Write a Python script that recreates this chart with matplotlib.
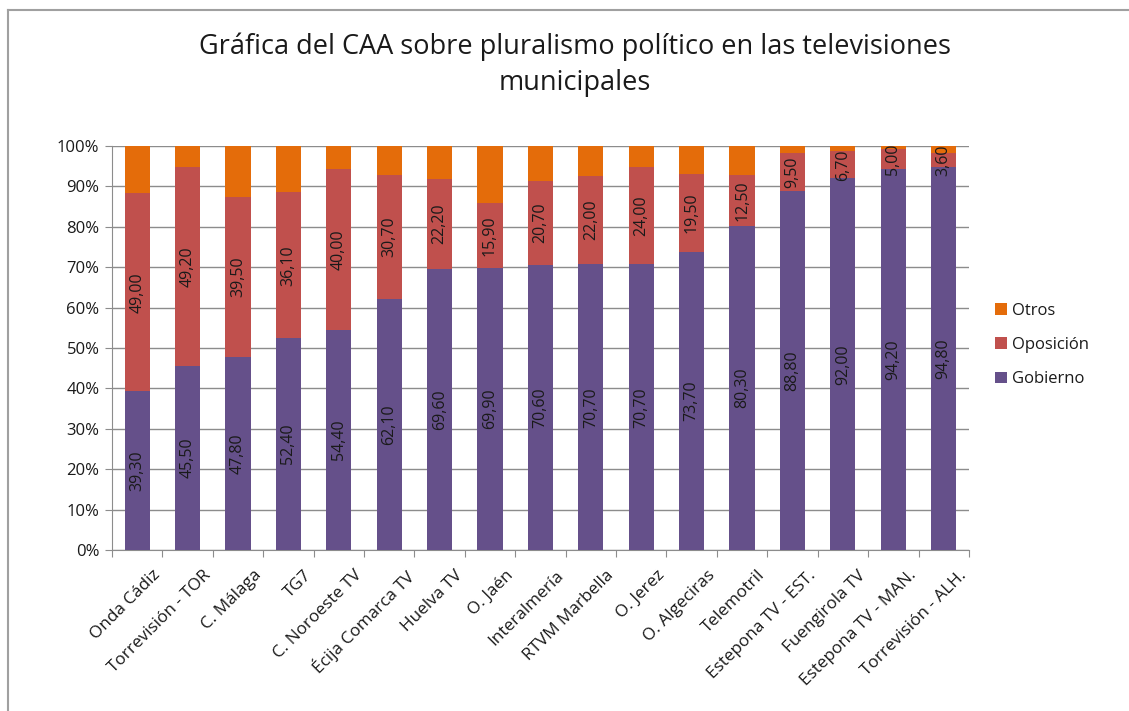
import matplotlib
matplotlib.use("Agg")
import matplotlib.pyplot as plt
from matplotlib.lines import Line2D
import numpy as np

plt.rcParams['font.family'] = ['Open Sans', 'DejaVu Sans']

canales = ['Onda Cádiz', 'Torrevisión - TOR', 'C. Málaga', 'TG7', 'C. Noroeste TV',
           'Écija Comarca TV', 'Huelva TV', 'O. Jaén', 'Interalmería', 'RTVM Marbella',
           'O. Jerez', 'O. Algeciras', 'Telemotril', 'Estepona TV - EST.',
           'Fuengirola TV', 'Estepona TV - MAN.', 'Torrevisión - ALH.']
gobierno = [39.3, 45.5, 47.8, 52.4, 54.4, 62.1, 69.6, 69.9, 70.6, 70.7, 70.7, 73.7,
            80.3, 88.8, 92.0, 94.2, 94.8]
oposicion = [49.0, 49.2, 39.5, 36.1, 40.0, 30.7, 22.2, 15.9, 20.7, 22.0, 24.0, 19.5,
             12.5, 9.5, 6.7, 5.0, 3.6]
otros = [11.7, 5.3, 12.7, 11.5, 5.6, 7.2, 8.2, 14.2, 8.7, 7.3, 5.3, 6.8,
         7.2, 1.7, 1.3, 0.8, 1.6]

c_gob = '#65508A'
c_opo = '#C0504D'
c_otr = '#E46C0A'
grid_c = '#8C8C8C'
txt_c = '#1a1a1a'

fig = plt.figure(figsize=(11.29, 7.11), dpi=100)
ax = fig.add_axes([0.0992, 0.2264, 0.7590, 0.5682])

x = np.arange(len(canales))
g = np.array(gobierno)
o = np.array(oposicion)
t = np.array(otros)
tot = g + o + t
gp = g / tot * 100
op = o / tot * 100
tp = t / tot * 100

w = 0.5
ax.bar(x, gp, w, color=c_gob, label='Gobierno', zorder=3)
ax.bar(x, op, w, bottom=gp, color=c_opo, label='Oposición', zorder=3)
ax.bar(x, tp, w, bottom=gp + op, color=c_otr, label='Otros', zorder=3)

# etiquetas de datos (Gobierno y Oposición)
for i in range(len(canales)):
    ax.text(x[i], gp[i] / 2, f'{gobierno[i]:.2f}'.replace('.', ','), rotation=90,
            ha='center', va='center', fontsize=11.5, color=txt_c, zorder=4)
    ax.text(x[i], gp[i] + op[i] / 2, f'{oposicion[i]:.2f}'.replace('.', ','), rotation=90,
            ha='center', va='center', fontsize=11.5, color=txt_c, zorder=4)

ax.set_xlim(-0.5, len(canales) - 0.5)
ax.set_ylim(0, 100)
ax.set_yticks(np.arange(0, 101, 10))
ax.set_yticklabels([f'{v}%' for v in range(0, 101, 10)], fontsize=12, color=txt_c)
ax.yaxis.grid(True, color=grid_c, lw=1, zorder=0)
ax.tick_params(axis='y', length=5, color=grid_c, pad=4)

ax.set_xticks(np.arange(-0.5, len(canales), 1))
ax.set_xticklabels([])
ax.tick_params(axis='x', length=5, color=grid_c)
for i, name in enumerate(canales):
    ax.text(x[i] + 0.3, -4.3, name, rotation=45, ha='right', va='top',
            rotation_mode='anchor', fontsize=12.3, color=txt_c)

for s in ['top', 'right']:
    ax.spines[s].set_visible(False)
for s in ['left', 'bottom']:
    ax.spines[s].set_color(grid_c)

handles, labels = ax.get_legend_handles_labels()
leg = fig.legend(handles[::-1], labels[::-1], loc='center left',
                 bbox_to_anchor=(0.868, 0.515), frameon=False, fontsize=12,
                 handlelength=0.7, handleheight=0.7, handletextpad=0.3,
                 labelspacing=1.1)
for txt in leg.get_texts():
    txt.set_color(txt_c)

fig.text(0.509, 0.909, 'Gráfica del CAA sobre pluralismo político en las televisiones\nmunicipales',
         ha='center', va='center', fontsize=19.5, linespacing=1.35, color=txt_c)

fig.add_artist(Line2D([0.007, 1.0], [0.986, 0.986], color='#A0A0A0', lw=1.5))
fig.add_artist(Line2D([0.007, 0.007], [0.0, 0.986], color='#A0A0A0', lw=1.5))

fig.savefig('out.png', dpi=100)
